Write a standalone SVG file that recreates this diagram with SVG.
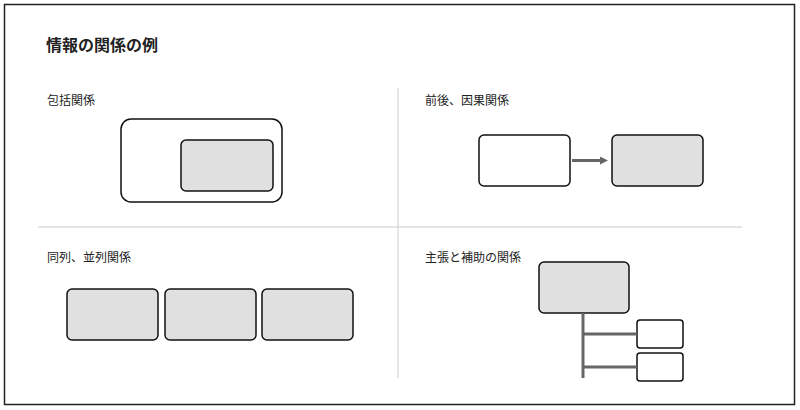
<svg xmlns="http://www.w3.org/2000/svg" width="800" height="410" viewBox="0 0 800 410">
<style>
text{font-family:"Noto Sans CJK JP","Noto Sans",sans-serif;fill:#222}
.lbl{font-size:12px}
.w{fill:#fff;stroke:#111;stroke-width:1.5}
.g{fill:#e0e0e0;stroke:#111;stroke-width:1.5}
.div{stroke:#ccc;stroke-width:1}
.c{stroke:#666;stroke-width:3;fill:none}
</style>
<defs><marker id="ah" markerWidth="8" markerHeight="8" refX="4" refY="4" orient="auto" markerUnits="userSpaceOnUse"><path d="M0,0 L8,4 L0,8 z" fill="#666"/></marker></defs>
<rect x="0" y="0" width="800" height="410" fill="#fff"/>
<rect x="4.5" y="4.5" width="790" height="400" fill="none" stroke="#222" stroke-width="1.5"/>
<text x="46" y="51" font-size="16" font-weight="bold">情報の関係の例</text>
<line class="div" x1="398" y1="88" x2="398" y2="378"/>
<line class="div" x1="38" y1="227" x2="742" y2="227"/>
<text class="lbl" x="47" y="105">包括関係</text>
<text class="lbl" x="425" y="105">前後、因果関係</text>
<text class="lbl" x="47" y="262">同列、並列関係</text>
<text class="lbl" x="425" y="262">主張と補助の関係</text>
<g id="contain-outer"><rect class="w" x="121" y="119" width="161" height="83" rx="10"/></g>
<g id="contain-inner"><rect class="g" x="181" y="140" width="92" height="51" rx="5"/></g>
<g id="seq-a"><rect class="w" x="479" y="135" width="91" height="51" rx="5"/></g>
<g id="seq-b"><rect class="g" x="612" y="135" width="91" height="51" rx="5"/></g>
<g id="par-1"><rect class="g" x="67" y="289" width="91" height="51" rx="5"/></g>
<g id="par-2"><rect class="g" x="165" y="289" width="91" height="51" rx="5"/></g>
<g id="par-3"><rect class="g" x="262" y="289" width="91" height="51" rx="5"/></g>
<g id="claim"><rect class="g" x="539" y="262" width="90" height="51" rx="5"/></g>
<g id="sup-1"><rect class="w" x="637" y="320" width="46" height="28" rx="3"/></g>
<g id="sup-2"><rect class="w" x="637" y="353" width="46" height="28" rx="3"/></g>
<g id="connectors">
<line class="c" x1="572" y1="160.5" x2="604" y2="160.5" marker-end="url(#ah)"/>
<line class="c" x1="583" y1="313" x2="583" y2="378"/>
<line class="c" x1="583" y1="334" x2="637" y2="334"/>
<line class="c" x1="583" y1="367" x2="637" y2="367"/>
</g>
</svg>
